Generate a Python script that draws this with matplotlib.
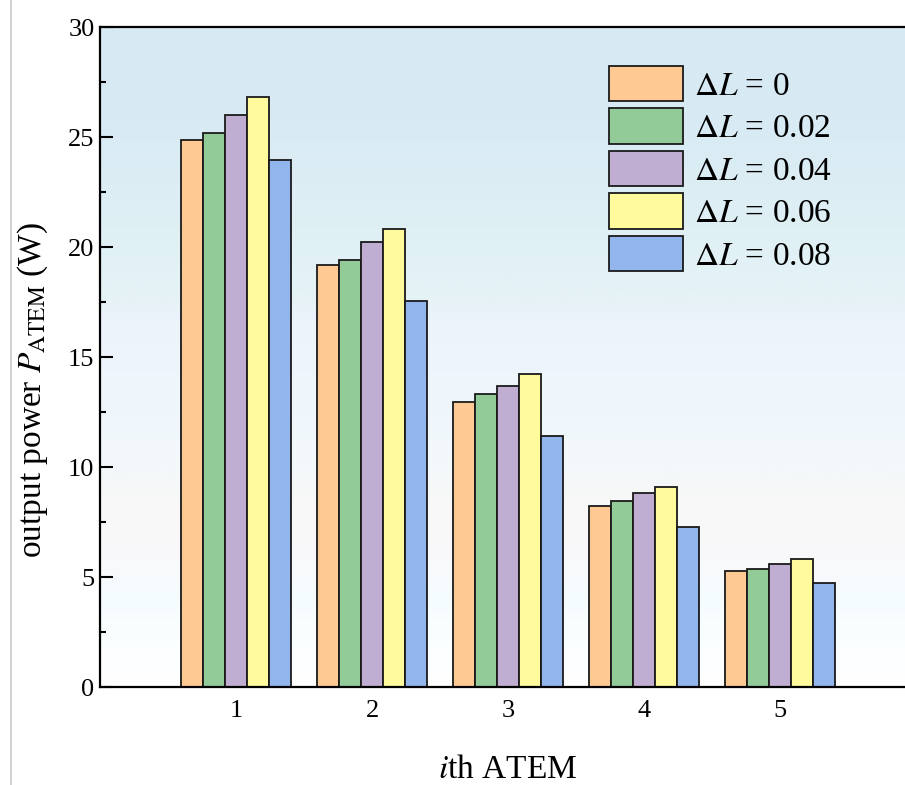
import numpy as np
import matplotlib
matplotlib.use('Agg')
import matplotlib.pyplot as plt
from matplotlib.colors import LinearSegmentedColormap
from matplotlib.lines import Line2D
from matplotlib.ticker import MultipleLocator

plt.rcParams.update({
    'font.family': 'Liberation Serif',
    'mathtext.fontset': 'stix',
})

# data
atem = [1, 2, 3, 4, 5]
labels = ['$\\Delta L$ = 0', '$\\Delta L$ = 0.02', '$\\Delta L$ = 0.04',
          '$\\Delta L$ = 0.06', '$\\Delta L$ = 0.08']
p_dl000 = [24.85, 19.18, 12.94, 8.23, 5.29]
p_dl002 = [25.20, 19.42, 13.33, 8.45, 5.38]
p_dl004 = [26.00, 20.21, 13.67, 8.83, 5.58]
p_dl006 = [26.82, 20.83, 14.21, 9.09, 5.83]
p_dl008 = [23.94, 17.53, 11.39, 7.29, 4.73]
series = [p_dl000, p_dl002, p_dl004, p_dl006, p_dl008]
colors = ['#ffc994', '#93cb98', '#c0aed2', '#fffa9c', '#93b5ee']

fig = plt.figure(figsize=(9.05, 7.85), dpi=100)
ax = fig.add_axes([0.1105, 0.1248, 0.9017, 0.8408])

# soft vertical background gradient
stops = [(0.0, '#ffffff'), (0.071, '#fbfeff'), (0.132, '#f5fcfe'),
         (0.192, '#f9f9fb'), (0.283, '#f8f8f8'), (0.344, '#f2f8fb'),
         (0.435, '#eff6fb'), (0.556, '#ecf3fc'), (0.586, '#e6f2f6'),
         (0.632, '#e2f2f6'), (0.738, '#ddeef4'), (0.859, '#d8eaf3'),
         (1.0, '#d7e9f3')]
bg = LinearSegmentedColormap.from_list('bg', stops)
grad = np.linspace(0, 1, 512).reshape(-1, 1)
ax.imshow(grad, cmap=bg, origin='lower', extent=[0, 1, 0, 1],
          transform=ax.transAxes, aspect='auto', zorder=0)

width = 0.162
x = np.array(atem, dtype=float)
for i, (vals, c, lab) in enumerate(zip(series, colors, labels)):
    ax.bar(x + (i - 2) * width, vals, width, color=c, edgecolor='#1a1a1a',
           linewidth=1.3, label=lab, zorder=2)

ax.set_xlim(0, 6)
ax.set_ylim(0, 30)
ax.set_xticks(atem)
ax.yaxis.set_major_locator(MultipleLocator(5))
ax.yaxis.set_minor_locator(MultipleLocator(2.5))
ax.tick_params(axis='both', which='major', direction='in', length=9.5,
               width=1.5, labelsize=19, pad=4)
ax.tick_params(axis='y', which='minor', direction='in', length=4.5, width=1.5)
ax.tick_params(axis='x', which='major', pad=9)
for s in ax.spines.values():
    s.set_linewidth(1.6)
    s.set_zorder(3)

ax.set_xlabel('$i$th ATEM', fontsize=24, labelpad=24)
ax.set_ylabel('output power $P_{\\mathrm{ATEM}}$ (W)', fontsize=24)
ax.yaxis.set_label_coords(-0.061, 0.45)

leg = ax.legend(loc='upper left', bbox_to_anchor=(0.624, 0.941), frameon=False,
                fontsize=24, borderaxespad=0, borderpad=0, handlelength=2.2,
                handleheight=1.25, labelspacing=0.2, handletextpad=0.35)

# thin page border on the left
fig.add_artist(Line2D([0.0125, 0.0125], [0, 1], transform=fig.transFigure,
                      color='#c8c8c8', linewidth=1.2))

fig.savefig('out.png', dpi=100)
